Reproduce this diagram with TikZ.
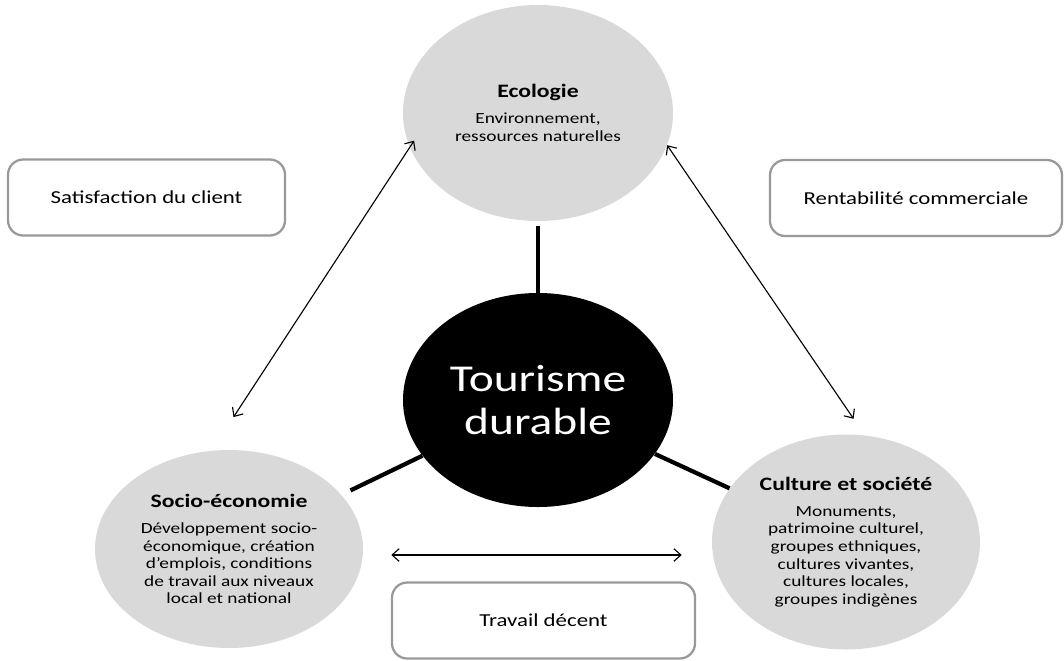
\documentclass[tikz,border=0pt]{standalone}
\usepackage{fontspec}
\setmainfont{Carlito}[FakeStretch=1.25]
\usetikzlibrary{shapes.geometric,arrows.meta}

\newcommand{\pillarhead}[1]{{\bfseries\fontsize{13.5}{16}\selectfont #1}\\[6pt]}

\begin{document}
\begin{tikzpicture}[
    pillar/.style={ellipse, fill=black!15, inner sep=0pt, align=center,
      font=\fontsize{11}{12.5}\selectfont},
    aim/.style={rectangle, rounded corners=0.38cm, draw=black!40, line width=1.6pt,
      minimum width=#1, minimum height=1.9cm, font=\fontsize{13}{15}\selectfont},
    link/.style={line width=3pt},
    pull/.style={{Straight Barb[length=5pt,width=9pt]}-{Straight Barb[length=5pt,width=9pt]},
      line width=0.8pt}
  ]
  \useasboundingbox (0,0) rectangle (26.6,-16.5);

  % the three pillars round the centre
  \node[pillar, minimum width=6.75cm, minimum height=5.4cm] (eco) at (13.45,-2.825)
    {\pillarhead{Ecologie}Environnement,\\ ressources naturelles};
  \node[pillar, minimum width=6.7cm, minimum height=4.95cm] (socio) at (5.725,-13.725)
    {\pillarhead{Socio-économie}Développement socio-\\ économique, création\\
     d'emplois, conditions\\ de travail aux niveaux\\ local et national};
  \node[pillar, minimum width=6.7cm, minimum height=5.375cm] (culture) at (21.15,-13.55)
    {\pillarhead{Culture et société}Monuments,\\ patrimoine culturel,\\ groupes ethniques,\\
     cultures vivantes,\\ cultures locales,\\ groupes indigènes};

  % centre
  \node[ellipse, fill=black, text=white, inner sep=0pt, align=center,
    minimum width=6.75cm, minimum height=5.35cm,
    font=\fontsize{27}{31}\selectfont] (tour) at (13.45,-10) {Tourisme\\ durable};

  % goals between the pillars
  \node[aim=6.925cm] (client) at (3.6625,-4.9375) {Satisfaction du client};
  \node[aim=7.3cm] (rent) at (22.9,-4.95) {Rentabilité commerciale};
  \node[aim=7.575cm] (travail) at (13.5875,-15.5125) {Travail décent};

  \draw[link, shorten <=0.125cm] (eco) -- (tour);
  \draw[link, shorten >=0.25cm] (tour) -- (socio);
  \draw[link] (tour) -- (culture);

  \draw[pull, shorten <=-0.2cm, shorten >=1cm] (eco.195) -- (socio.100);
  \draw[pull, shorten >=0.5cm] (eco.346) -- (culture.80);
  \coordinate (low) at ([yshift=-0.15cm]socio.east);
  \draw[pull, shorten <=0.7cm, shorten >=0.75cm] (low) -- (low -| culture.west);
\end{tikzpicture}
\end{document}
